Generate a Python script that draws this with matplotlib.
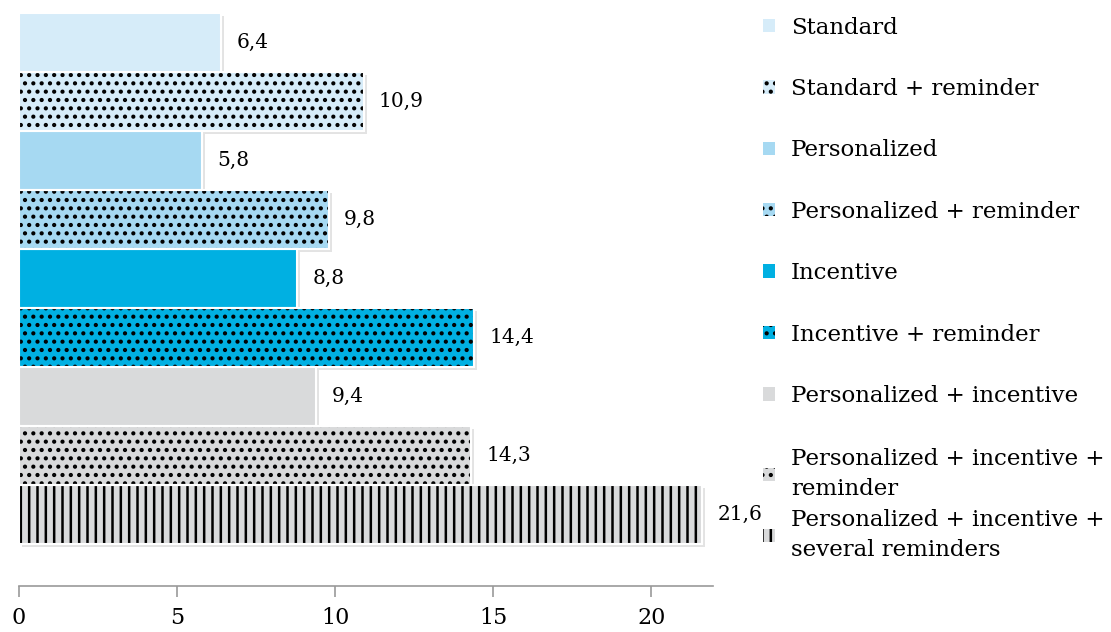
import numpy as np
import matplotlib
matplotlib.use("Agg")
import matplotlib.pyplot as plt
from matplotlib.transforms import ScaledTranslation

plt.rcParams['font.family'] = 'DejaVu Serif'
plt.rcParams['hatch.linewidth'] = 1.8

# data
categories = ['Standard', 'Standard + reminder', 'Personalized', 'Personalized + reminder',
              'Incentive', 'Incentive + reminder', 'Personalized + incentive',
              'Personalized + incentive +\nreminder',
              'Personalized + incentive +\nseveral reminders']
values = [6.4, 10.9, 5.8, 9.8, 8.8, 14.4, 9.4, 14.3, 21.6]
xticks = [0, 5, 10, 15, 20]

# styling
light, mid, cyan, grey = '#D6ECF9', '#A6D9F2', '#00B0E2', '#D9DADB'
colors = [light, light, mid, mid, cyan, cyan, grey, grey, grey]
hatches = ['', '..', '', '..', '', '..', '', '..', '||']

fig = plt.figure(figsize=(11.11, 6.32), dpi=100)
ax = fig.add_axes([0.0171, 0.0728, 0.6247, 0.9066])

y = np.arange(len(values))

# soft drop shadow behind bars
shadow = ax.transData + ScaledTranslation(0.03, -0.03, fig.dpi_scale_trans)
ax.barh(y, values, height=1.0, color='#b0b0b0', alpha=0.35, linewidth=0,
        transform=shadow, zorder=1)

bars = ax.barh(y, values, height=1.0, color=colors, hatch=hatches,
               edgecolor='black', linewidth=0, zorder=2)
for b, lab in zip(bars, categories):
    b.set_label(lab)
# white outline on top
ax.barh(y, values, height=1.0, fill=False, edgecolor='white', linewidth=1.5, zorder=3)

labels = [f"{v:.1f}".replace('.', ',') for v in values]
ax.bar_label(bars, labels=labels, padding=11, fontsize=14.5, color='black')

ax.set_xlim(0, 21.95)
ax.set_ylim(9.22, -0.5)
ax.set_yticks([])
ax.set_xticks(xticks)
ax.tick_params(axis='x', length=8, width=1.2, color='#999999', labelsize=16, pad=7)
for s in ['left', 'top', 'right']:
    ax.spines[s].set_visible(False)
ax.spines['bottom'].set_color('#999999')
ax.spines['bottom'].set_linewidth(1.2)

leg_kw = dict(frameon=False, fontsize=16.5, handlelength=0.52, handleheight=0.52,
              handletextpad=0.7, borderpad=0, borderaxespad=0, loc='upper left')
leg1 = fig.legend(handles=list(bars)[:7], labelspacing=1.72,
                  bbox_to_anchor=(0.6868, 0.9737), **leg_kw)
leg2 = fig.legend(handles=list(bars)[7:], labelspacing=0.37,
                  bbox_to_anchor=(0.6868, 0.2912), **leg_kw)
for t in leg2.get_texts():
    t.set_linespacing(1.5)

fig.savefig('out.png', dpi=100, facecolor='white')
